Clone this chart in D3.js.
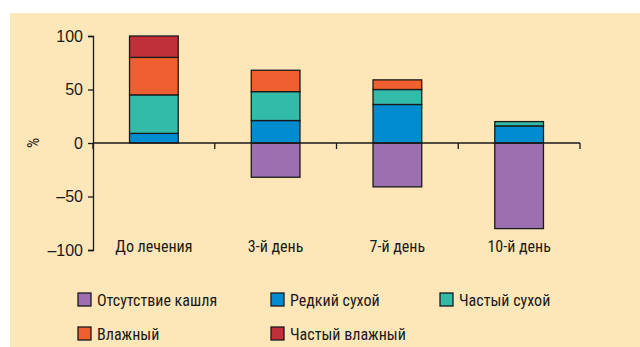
<!DOCTYPE html>
<html>
<head>
<meta charset="utf-8">
<script src="https://cdn.jsdelivr.net/npm/d3@7"></script>
<style>
  html, body { margin: 0; padding: 0; background: #ffffff; }
  svg { display: block; }
  text { font-family: "Liberation Sans Narrow", "Arial Narrow", "Roboto Condensed", "Liberation Sans", sans-serif; fill: #1a1a1a; }
</style>
</head>
<body>
<svg id="chart" width="640" height="347"></svg>
<script>
// Visit categories
const categories = ["До лечения", "3-й день", "7-й день", "10-й день"];

// Cough type series (percent of patients); absent cough is plotted downward
const seriesNames = ["Отсутствие кашля", "Редкий сухой", "Частый сухой", "Влажный", "Частый влажный"];
const absentCough = [0, -32, -41, -80];
const rareDry     = [9, 21, 36, 16];
const frequentDry = [36, 27, 14, 4];
const wet         = [35, 20, 9, 0];
const frequentWet = [20, 0, 0, 0];

const yTicks = [100, 50, 0, -50, -100];
const yTickLabels = ["100", "50", "0", "\u201350", "\u2013100"];

const colors = ["#9b6fb0", "#008ccf", "#33bba9", "#f05f30", "#c0303a"];

const svg = d3.select("#chart");
const W = 640, H = 347;
const FONT = "16px";

// panel background
svg.append("rect").attr("x", 10).attr("y", 13).attr("width", W - 10).attr("height", H - 13)
  .attr("fill", "#fde6b7");

const x = d3.scaleBand().domain(categories).range([93, 580]).paddingInner(0.6).paddingOuter(0.3);
const y = d3.scaleLinear().domain([-100, 100]).range([250, 36]);

// Build stacked segments: positives stack upward from zero
const positive = [rareDry, frequentDry, wet, frequentWet];
const segments = [];
categories.forEach((c, i) => {
  if (absentCough[i] !== 0) segments.push({ c, s: 0, y0: 0, y1: absentCough[i] });
  let base = 0;
  positive.forEach((arr, k) => {
    const v = arr[i];
    if (v > 0) { segments.push({ c, s: k + 1, y0: base, y1: base + v }); base += v; }
  });
});

svg.append("g").selectAll("rect").data(segments).join("rect")
  .attr("x", d => x(d.c))
  .attr("width", x.bandwidth())
  .attr("y", d => y(Math.max(d.y0, d.y1)))
  .attr("height", d => Math.abs(y(d.y0) - y(d.y1)))
  .attr("fill", d => colors[d.s])
  .attr("stroke", "#1a1a1a").attr("stroke-width", 1.3);

// Y axis
const yAxis = d3.axisLeft(y).tickValues(yTicks).tickSize(5).tickPadding(5)
  .tickFormat((d, i) => yTickLabels[i]);
const gy = svg.append("g").attr("transform", "translate(93,0)").call(yAxis);
gy.select(".domain").attr("stroke", "#1a1a1a").attr("stroke-width", 1.3);
gy.selectAll(".tick line").attr("stroke", "#1a1a1a").attr("stroke-width", 1.3);
gy.selectAll(".tick text").style("font-size", FONT).attr("fill", "#1a1a1a")
  .style("font-family", '"Liberation Sans Narrow", "Liberation Sans", sans-serif');

// X axis along zero with tick marks at category boundaries
const boundaries = d3.range(categories.length + 1).map(i => 93 + i * (580 - 93) / categories.length);
const gx = svg.append("g");
gx.append("line").attr("x1", 93).attr("x2", 580).attr("y1", y(0)).attr("y2", y(0))
  .attr("stroke", "#1a1a1a").attr("stroke-width", 1.3);
gx.selectAll("line.tk").data(boundaries).join("line").attr("class", "tk")
  .attr("x1", d => d).attr("x2", d => d).attr("y1", y(0)).attr("y2", y(0) + 6)
  .attr("stroke", "#1a1a1a").attr("stroke-width", 1.3);

// Category labels
svg.append("g").selectAll("text").data(categories).join("text")
  .attr("x", d => x(d) + x.bandwidth() / 2)
  .attr("y", 252)
  .attr("text-anchor", "middle")
  .style("font-size", FONT)
  .text(d => d);

// Y axis title
svg.append("text").attr("transform", `translate(39,${y(0)}) rotate(-90)`)
  .attr("text-anchor", "middle").style("font-size", FONT).text("%");

// Legend
const legendPos = [[78, 293], [271, 293], [440, 293], [78, 327], [271, 327]];
const lg = svg.append("g").selectAll("g").data(seriesNames).join("g")
  .attr("transform", (d, i) => `translate(${legendPos[i][0]},${legendPos[i][1]})`);
lg.append("rect").attr("width", 13).attr("height", 13)
  .attr("fill", (d, i) => colors[i]).attr("stroke", "#1a1a1a").attr("stroke-width", 1.3);
lg.append("text").attr("x", 19).attr("y", 12.5).style("font-size", FONT).text(d => d);
</script>
</body>
</html>
